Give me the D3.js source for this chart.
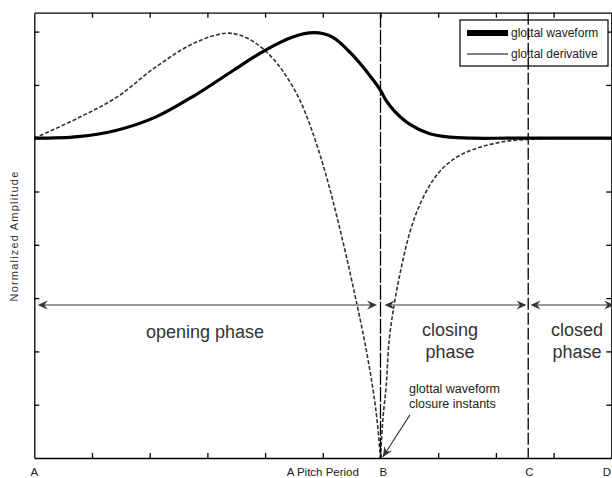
<!DOCTYPE html>
<html>
<head>
  <meta charset="utf-8">
  <title>Glottal waveform and derivative</title>
  <style>
    body { margin: 0; background: #fff; }
    svg text { font-family: "Liberation Sans", Arial, sans-serif; }
  </style>
</head>
<body>
  <script src="https://d3js.org/d3.v7.min.js"></script>
  <script type="text/javascript">
 // values (x in tick units, y in tick units, 0 = rest level)
 var waveX = [0, 0.76, 1.43, 2.11, 2.79, 3.46, 4.0, 4.48, 4.85, 5.16, 5.49, 5.84, 6.0, 6.09, 6.25, 6.51, 6.84, 7.2, 7.6, 8.2, 9.0, 10];
 var waveY = [0, 0.03, 0.15, 0.4, 0.81, 1.28, 1.65, 1.9, 1.98, 1.9, 1.59, 1.14, 0.9, 0.72, 0.5, 0.26, 0.09, 0.02, 0, 0, 0, 0];

 var derivX = [0, 0.76, 1.43, 2.11, 2.78, 3.32, 3.57, 3.83, 4.08, 4.34, 4.6, 4.81, 5.04, 5.28, 5.52, 5.77, 5.92, 6.0,
               6.04, 6.1, 6.15, 6.25, 6.37, 6.51, 6.68, 6.89, 7.12, 7.38, 7.72, 8.16, 8.59, 9.11, 10];
 var derivY = [0, 0.38, 0.77, 1.34, 1.79, 1.97, 1.93, 1.79, 1.56, 1.21, 0.72, 0.15, -0.63, -1.63, -2.76, -4.07, -5.1, -6,
               -5.29, -4.63, -3.79, -3.04, -2.38, -1.76, -1.25, -0.82, -0.52, -0.32, -0.17, -0.06, -0.02, 0, 0];

 var xTicks = [1, 2, 3, 4, 5, 6, 7, 8, 9];
 var yTicks = [-5, -4, -3, -2, -1, 0, 1, 2];

 var instantNames = ["B", "C"];
 var instantX = [6, 8.56];

 var phaseNames = [["opening phase"], ["closing", "phase"], ["closed", "phase"]];
 var phaseStart = [0.06, 6.07, 8.6];
 var phaseEnd = [5.94, 8.53, 10.05];
 var phaseLevel = -3.13;

 var bottomLabels = ["A", "A Pitch Period", "B", "C", "D"];
 var bottomLabelX = [0, 5, 6.05, 8.58, 10];

 var legendNames = ["glottal waveform", "glottal derivative"];

(function() {
 var W = 612, H = 478;
 var pLeft = 34.3, pRight = 611.3, pTop = 12.7, pBottom = 458;

 var svg = d3.select("body").append("svg")
     .attr("width", W).attr("height", H);

 var x = d3.scaleLinear().domain([0, 10]).range([pLeft, pRight]);
 var y = d3.scaleLinear().domain([-6, 2.355]).range([pBottom, pTop]);

 // axes box with inward ticks
 function styleAxis(g) {
   g.selectAll("path, line").attr("stroke", "#000").attr("stroke-width", 1.3);
   g.selectAll("text").remove();
 }
 svg.append("g").attr("transform", "translate(0," + pBottom + ")")
    .call(d3.axisBottom(x).tickValues(xTicks).tickSizeInner(-5).tickSizeOuter(0).tickFormat(""))
    .call(styleAxis);
 svg.append("g").attr("transform", "translate(0," + pTop + ")")
    .call(d3.axisTop(x).tickValues(xTicks).tickSizeInner(-5).tickSizeOuter(0).tickFormat(""))
    .call(styleAxis);
 svg.append("g").attr("transform", "translate(" + pLeft + ",0)")
    .call(d3.axisLeft(y).tickValues(yTicks).tickSizeInner(-5).tickSizeOuter(0).tickFormat(""))
    .call(styleAxis);
 svg.append("g").attr("transform", "translate(" + pRight + ",0)")
    .call(d3.axisRight(y).tickValues(yTicks).tickSizeInner(-5).tickSizeOuter(0).tickFormat(""))
    .call(styleAxis);

 var line = d3.line()
     .x(function(d){ return x(d[0]); })
     .y(function(d){ return y(d[1]); })
     .curve(d3.curveCatmullRom.alpha(0.5));

 var derivData = derivX.map(function(v, i){ return [v, derivY[i]]; });
 var waveData = waveX.map(function(v, i){ return [v, waveY[i]]; });

 // derivative has a sharp minimum at the closure instant: draw both sides of it separately
 var minIdx = d3.minIndex(derivY);
 [derivData.slice(0, minIdx + 1), derivData.slice(minIdx)].forEach(function(part){
   svg.append("path").datum(part)
      .attr("d", line)
      .attr("fill", "none").attr("stroke", "#333")
      .attr("stroke-width", 1.6).attr("stroke-dasharray", "4,2");
 });

 svg.append("path").datum(waveData)
    .attr("d", line)
    .attr("fill", "none").attr("stroke", "#000")
    .attr("stroke-width", 3.2);

 // legend
 var lg = svg.append("g");
 lg.append("rect").attr("x", 460).attr("y", 20).attr("width", 148).attr("height", 46)
   .attr("fill", "#fff").attr("stroke", "#000").attr("stroke-width", 1.2);
 lg.append("line").attr("x1", 467).attr("x2", 508).attr("y1", 33).attr("y2", 33)
   .attr("stroke", "#000").attr("stroke-width", 6);
 lg.append("line").attr("x1", 467).attr("x2", 508).attr("y1", 54).attr("y2", 54)
   .attr("stroke", "#000").attr("stroke-width", 1);
 lg.selectAll("text").data(legendNames).enter().append("text")
   .attr("x", 511).attr("y", function(d, i){ return 37 + i * 21; })
   .attr("font-size", 12).attr("fill", "#222")
   .text(function(d){ return d; });

 // instant lines
 var dashes = ["15,2", "12,3"];
 svg.selectAll(".instant").data(instantX).enter().append("line")
    .attr("class", "instant")
    .attr("x1", function(d){ return x(d); }).attr("x2", function(d){ return x(d); })
    .attr("y1", pTop).attr("y2", pBottom)
    .attr("stroke", "#000").attr("stroke-width", 1.3)
    .attr("stroke-dasharray", function(d, i){ return dashes[i]; });

 // phase arrows
 function head(tx, ty, dir) {
   return "M" + tx + "," + ty +
          "L" + (tx - dir * 10) + "," + (ty - 4.5) +
          "L" + (tx - dir * 6.5) + "," + ty +
          "L" + (tx - dir * 10) + "," + (ty + 4.5) + "Z";
 }
 phaseStart.forEach(function(s, i){
   var x0 = x(s), x1 = x(phaseEnd[i]), yy = y(phaseLevel);
   svg.append("line").attr("x1", x0 + 4).attr("x2", x1 - 4).attr("y1", yy).attr("y2", yy)
      .attr("stroke", "#999").attr("stroke-width", 2);
   svg.append("path").attr("d", head(x0, yy, -1)).attr("fill", "#333");
   svg.append("path").attr("d", head(x1, yy, 1)).attr("fill", "#333");
 });

 // phase labels
 var labelPos = [[205, 338], [450, 336], [577, 336]];
 phaseNames.forEach(function(lines, i){
   lines.forEach(function(t, j){
     svg.append("text")
        .attr("x", labelPos[i][0]).attr("y", labelPos[i][1] + j * 22)
        .attr("text-anchor", "middle").attr("font-size", 18).attr("fill", "#333")
        .text(t);
   });
 });

 // closure instant annotation
 svg.append("text").attr("x", 409).attr("y", 393).attr("font-size", 12.5).attr("fill", "#222")
    .text("glottal waveform");
 svg.append("text").attr("x", 409).attr("y", 408).attr("font-size", 12.5).attr("fill", "#222")
    .text("closure instants");
 var ax0 = x(6.51), ay0 = y(-5.19), ax1 = x(6.04), ay1 = y(-5.98);
 svg.append("line").attr("x1", ax0).attr("y1", ay0).attr("x2", ax1).attr("y2", ay1)
    .attr("stroke", "#333").attr("stroke-width", 1.1);
 var ang = Math.atan2(ay1 - ay0, ax1 - ax0) * 180 / Math.PI;
 svg.append("path").attr("d", head(0, 0, 1))
    .attr("transform", "translate(" + ax1 + "," + ay1 + ") rotate(" + ang + ")")
    .attr("fill", "#333");

 // bottom labels (the last one sits at the right edge)
 svg.selectAll(".blab").data(bottomLabels).enter().append("text")
    .attr("class", "blab")
    .attr("x", function(d, i){ return i === bottomLabels.length - 1 ? 611 : x(bottomLabelX[i]); })
    .attr("y", 476)
    .attr("text-anchor", function(d, i){ return i === bottomLabels.length - 1 ? "end" : "middle"; })
    .attr("font-size", 11.5).attr("fill", "#222")
    .text(function(d){ return d; });

 // y label
 svg.append("text")
    .attr("transform", "translate(18,236) rotate(-90)")
    .attr("text-anchor", "middle").attr("font-size", 11).attr("letter-spacing", 1.2)
    .attr("fill", "#333")
    .text("Normalized Amplitude");
})();
  </script>
</body>
</html>
